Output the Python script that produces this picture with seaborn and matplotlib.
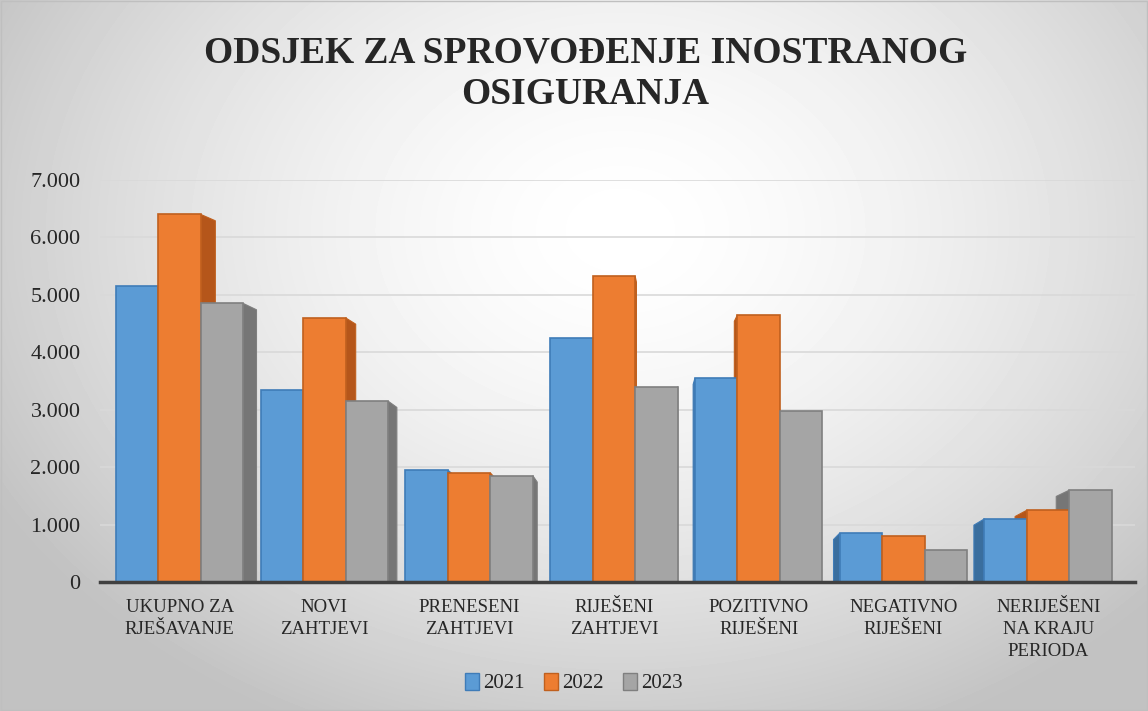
import numpy as np
import pandas as pd
import matplotlib
matplotlib.use("Agg")
import matplotlib.pyplot as plt
from matplotlib.ticker import FuncFormatter
from matplotlib.patches import Patch, Polygon
import seaborn as sns

# podaci (procijenjeni sa slike)
kategorije = [
    "UKUPNO ZA\nRJEŠAVANJE",
    "NOVI\nZAHTJEVI",
    "PRENESENI\nZAHTJEVI",
    "RIJEŠENI\nZAHTJEVI",
    "POZITIVNO\nRIJEŠENI",
    "NEGATIVNO\nRIJEŠENI",
    "NERIJEŠENI\nNA KRAJU\nPERIODA",
]
godine = ["2021", "2022", "2023"]
v2021 = [5150, 3350, 1950, 4250, 3550, 850, 1100]
v2022 = [6400, 4600, 1900, 5330, 4650, 800, 1250]
v2023 = [4850, 3150, 1850, 3400, 2980, 550, 1600]
boje = ["#5B9BD5", "#ED7D31", "#A5A5A5"]
rubovi = ["#3F7CB8", "#C0601E", "#7F7F7F"]
stranice = ["#3A6E9E", "#B5561A", "#767676"]

df = pd.DataFrame({
    "kategorija": kategorije * 3,
    "godina": [g for g in godine for _ in kategorije],
    "vrijednost": v2021 + v2022 + v2023,
})

sns.set_theme(style="white")
plt.rcParams["font.family"] = ["Liberation Serif", "DejaVu Serif"]

fig = plt.figure(figsize=(11.48, 7.11), dpi=100)

# pozadina - radijalni gradijent
bg = fig.add_axes([0, 0, 1, 1], zorder=-10)
yy, xx = np.mgrid[0:711, 0:1148]
r = np.sqrt(((xx - 620) / 680.0) ** 2 + ((yy - 230) / 520.0) ** 2)
shade = np.clip(1.0 - 0.22 * r ** 1.6, 0.76, 1.0)
bg.imshow(shade, cmap="gray", vmin=0, vmax=1, aspect="auto")
bg.axis("off")

ax = fig.add_axes([100 / 1148, 1 - 582 / 711, 1035 / 1148, 402 / 711])
ax.set_facecolor("none")

sns.barplot(data=df, x="kategorija", y="vrijednost", hue="godina",
            palette=boje, saturation=1, width=0.88, gap=0, ax=ax,
            legend=False, zorder=3)

# jednostavan 3D dojam: bocne stranice iza stupaca
for i, cont in enumerate(ax.containers):
    for p in cont:
        p.set_edgecolor(rubovi[i])
        p.set_linewidth(1.2)
        x0, w, h = p.get_x(), p.get_width(), p.get_height()
        xc = x0 + w / 2
        dx = -0.1 * (xc - 3.3) / 3.3
        dy = -110
        xe = x0 + w if dx > 0 else x0
        side = Polygon([(xe, 0), (xe, h), (xe + dx, h + dy), (xe + dx, 0)],
                       closed=True, facecolor=stranice[i], edgecolor=rubovi[i],
                       linewidth=0.8, zorder=2.5)
        ax.add_patch(side)

ax.set_xlim(-0.55, 6.6)
ax.set_ylim(0, 7000)
ax.set_yticks(range(0, 7001, 1000))
ax.yaxis.set_major_formatter(FuncFormatter(lambda v, _: f"{int(v):,}".replace(",", ".")))
ax.grid(axis="y", color="#d9d9d9", linewidth=1.2, zorder=0)
ax.set_xlabel("")
ax.set_ylabel("")
for s in ["top", "right", "left"]:
    ax.spines[s].set_visible(False)
ax.spines["bottom"].set_color("#404040")
ax.spines["bottom"].set_linewidth(2.5)
ax.spines["bottom"].set_zorder(4)
ax.tick_params(axis="y", labelsize=16, pad=14, length=0)
ax.tick_params(axis="x", labelsize=13.5, pad=12, length=0)
for lab in ax.get_xticklabels():
    lab.set_linespacing(1.4)
    lab.set_verticalalignment("top")

fig.suptitle("ODSJEK ZA SPROVOĐENJE INOSTRANOG\nOSIGURANJA", x=0.51,
             fontsize=27, fontweight="bold", y=0.95, linespacing=1.25)

ruke = [Patch(facecolor=boje[i], edgecolor=rubovi[i], label=godine[i]) for i in range(3)]
fig.legend(handles=ruke, loc="center", bbox_to_anchor=(0.5, 1 - 683 / 711), ncol=3,
           frameon=False, fontsize=15, handlelength=0.7, handleheight=0.9,
           handletextpad=0.2, columnspacing=0.9)

fig.patches.append(plt.Rectangle((0.001, 0.001), 0.998, 0.997, transform=fig.transFigure,
                                 fill=False, edgecolor="#bfbfbf", linewidth=1))

fig.savefig("out.png", dpi=100)
plt.close()
